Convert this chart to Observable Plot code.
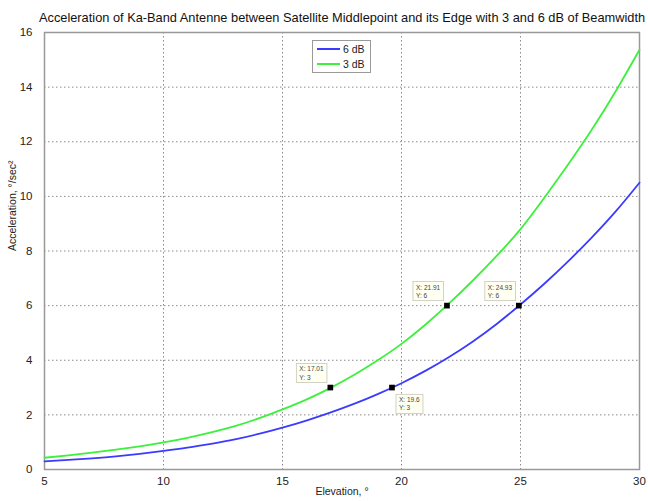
<!DOCTYPE html>
<html><head><meta charset="utf-8">
<script src="https://cdn.jsdelivr.net/npm/d3@7"></script>
<script src="https://cdn.jsdelivr.net/npm/@observablehq/plot@0.6"></script>
<style>
body{margin:0;background:#fff;}
#wrap{position:relative;width:648px;height:501px;font-family:Arial,"Liberation Sans",sans-serif;}
#legend{position:absolute;left:312px;top:40px;width:59px;height:33px;border:1px solid #9a9a9a;background:#fff;font-size:10.5px;color:#222;box-sizing:border-box;}
#legend .row{position:absolute;left:4px;height:12px;display:flex;align-items:center;}
#legend .sw{display:inline-block;width:23px;height:2px;margin-right:3px;}
</style></head><body><div id="wrap"><div id="legend"></div></div>
<script>
const title = "Acceleration of Ka-Band Antenne between Satellite Middlepoint and its Edge with 3 and 6 dB of Beamwidth";
const xLabel = "Elevation, °";
const yLabel = "Acceleration, °/sec²";
const elevation = [5,6,7,8,9,10,11,12,13,14,15,16,17,18,19,20,21,22,23,24,25,26,27,28,29,30];
const accel6dB = [0.30,0.35,0.41,0.48,0.57,0.68,0.80,0.94,1.10,1.30,1.53,1.79,2.08,2.40,2.76,3.16,3.61,4.12,4.69,5.33,6.04,6.80,7.62,8.50,9.45,10.50];
const accel3dB = [0.43,0.52,0.62,0.73,0.85,0.99,1.16,1.36,1.59,1.87,2.20,2.56,2.98,3.46,4.00,4.60,5.30,6.08,6.92,7.82,8.80,9.95,11.17,12.45,13.85,15.37];
const seriesNames = ["6 dB","3 dB"];
const seriesColors = ["#3b3bff","#3cf03c"];
const tipX = [17.01, 19.6, 21.91, 24.93];
const tipY = [3, 3, 6, 6];
const tipSide = ["upperLeft","lowerRight","upperLeft","upperLeft"];
const xTicks = [5,10,15,20,25,30];
const yTicks = [0,2,4,6,8,10,12,14,16];

const seriesValues = [accel6dB, accel3dB];
const rows = [];
seriesNames.forEach((s,i)=>elevation.forEach((e,j)=>rows.push({series:s, elevation:e, accel:seriesValues[i][j]})));
const tips = tipX.map((x,i)=>({x, y:tipY[i], side:tipSide[i], label:`X: ${x}\nY: ${tipY[i]}`}));

const gridStyle = {stroke:"#8a8a8a", strokeOpacity:1, strokeWidth:1, strokeDasharray:"1.5,2.5"};
const tipText = {x:"x", y:"y", text:"label", textAnchor:"start", fontSize:6.5, fill:"#444", lineHeight:1.25, className:"tiplabel", ariaLabel:"tiplabel"};

const chart = Plot.plot({
  width:648, height:501,
  marginLeft:44, marginRight:9, marginTop:32, marginBottom:32,
  style:{fontFamily:'Arial,"Liberation Sans",sans-serif', fontSize:"11.5px", color:"#222", background:"#fff"},
  x:{domain:[5,30]},
  y:{domain:[0,16]},
  color:{domain:seriesNames, range:seriesColors},
  marks:[
    Plot.gridX(xTicks, gridStyle),
    Plot.gridY(yTicks, gridStyle),
    Plot.axisX(xTicks, {tickSize:0, tickPadding:7, label:null, fill:"#222"}),
    Plot.axisY(yTicks, {tickSize:0, tickPadding:12, label:null, fill:"#222"}),
    Plot.frame({stroke:"#999", strokeWidth:1.5}),
    Plot.line(rows, {x:"elevation", y:"accel", z:"series", stroke:"series", strokeWidth:1.8, curve:"natural"}),
    Plot.dot(tips, {x:"x", y:"y", symbol:"square", r:3.2, fill:"#000"}),
    Plot.text(tips.filter(d=>d.side==="upperLeft"), {...tipText, lineAnchor:"bottom", dx:-31, dy:-8}),
    Plot.text(tips.filter(d=>d.side==="lowerRight"), {...tipText, lineAnchor:"top", dx:7, dy:9}),
    Plot.text([title], {frameAnchor:"top", dy:-20, fontSize:12.8, fill:"#111"}),
    Plot.text([xLabel], {frameAnchor:"bottom", dy:25, fontSize:10.5, fill:"#222"}),
    Plot.text([yLabel], {frameAnchor:"left", rotate:-90, dx:-32, fontSize:10.5, fill:"#222"})
  ]
});
document.getElementById("wrap").appendChild(chart);

// backgrounds for the data-tip labels
const svg = chart.tagName.toLowerCase()==="svg" ? chart : chart.querySelector("svg");
svg.querySelectorAll("g.tiplabel text, g[aria-label='tiplabel'] text").forEach(t=>{
  if (t.previousSibling && t.previousSibling.__tipbg) return;
  const b = t.getBBox();
  const r = document.createElementNS("http://www.w3.org/2000/svg","rect");
  r.__tipbg = true;
  r.setAttribute("x", b.x-3); r.setAttribute("y", b.y-2);
  r.setAttribute("width", b.width+6); r.setAttribute("height", b.height+4);
  r.setAttribute("fill", "#fffff2"); r.setAttribute("stroke", "#c8c8b8"); r.setAttribute("stroke-width", "0.8");
  if (t.getAttribute("transform")) r.setAttribute("transform", t.getAttribute("transform"));
  t.parentNode.insertBefore(r, t);
});

// legend
const leg = document.getElementById("legend");
seriesNames.forEach((s,i)=>{
  const row = document.createElement("div");
  row.className="row"; row.style.top = (2 + i*14.5) + "px";
  const sw = document.createElement("span"); sw.className="sw"; sw.style.background = seriesColors[i];
  const lb = document.createElement("span"); lb.textContent = s;
  row.appendChild(sw); row.appendChild(lb); leg.appendChild(row);
});
</script></body></html>
